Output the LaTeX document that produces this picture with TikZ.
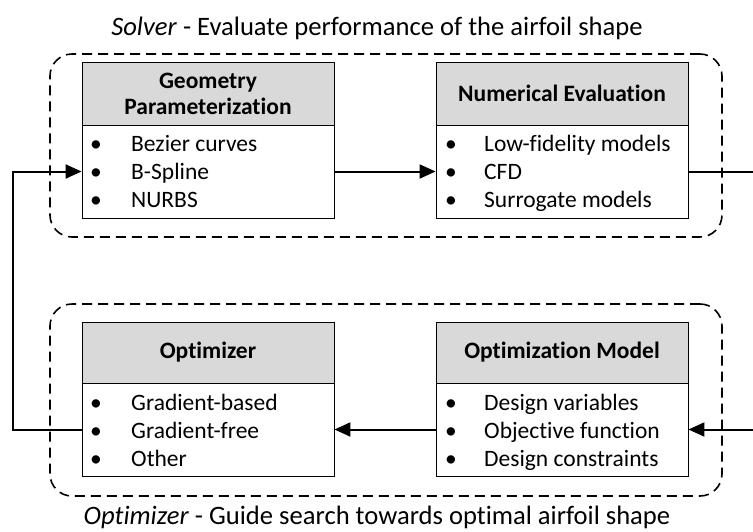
\documentclass[tikz,border=0pt]{standalone}
\usepackage{fontspec}
\setmainfont{Carlito}[Ligatures=NoCommon]
\usetikzlibrary{arrows.meta}
\begin{document}
\begin{tikzpicture}[x=1pt,y=-1pt,
  every node/.style={font=\fontsize{23.5}{27}\selectfont},
  hdr/.style={draw=black, line width=0.9pt, fill=hdrgray, minimum width=252pt, inner sep=0pt, align=center, font=\fontsize{23.5}{26}\selectfont\bfseries},
  bdy/.style={draw=black, line width=0.9pt, fill=white, minimum width=252pt, minimum height=93pt, inner sep=0pt},
  dbox/.style={draw=black, line width=1.6pt, dash pattern=on 10pt off 6pt, rounded corners=22pt, inner sep=0pt},
  item/.style={anchor=base west, inner sep=0pt},
  bul/.style={anchor=base, inner sep=0pt},
  conn/.style={draw=black, line width=2pt},
  arr/.style={conn, -{Triangle[length=16pt,width=14pt]}},
  ttl/.style={anchor=base, inner sep=0pt, font=\fontsize{26.6}{30}\selectfont}
]
\definecolor{hdrgray}{HTML}{D9D9D9}
\useasboundingbox (0,0) rectangle (753,531);

% group boxes
\node[dbox, minimum width=672pt, minimum height=183pt] (solver) at (386,145.5) {};
\node[dbox, minimum width=672pt, minimum height=192pt] (optgrp) at (386,400) {};
\node[ttl] (soltitle) at (377,35) {\textit{Solver} - Evaluate performance of the airfoil shape};
\node[ttl] (opttitle) at (377,524) {\textit{Optimizer} - Guide search towards optimal airfoil shape};

% top boxes
\node[hdr, minimum height=63pt] (gph) at (208,93.5) {Geometry\\Parameterization};
\node[bdy] (gpb) at (208,171.5) {};
\node[hdr, minimum height=63pt] (neh) at (562,93.5) {Numerical Evaluation};
\node[bdy] (neb) at (562,171.5) {};

% bottom boxes
\node[hdr, minimum height=61pt] (oph) at (208,352.5) {Optimizer};
\node[bdy] (opb) at (208,429.5) {};
\node[hdr, minimum height=61pt] (omh) at (562,352.5) {Optimization Model};
\node[bdy] (omb) at (562,429.5) {};

% items
\foreach \n/\y/\t in {g1/151/Bezier curves, g2/179/B-Spline, g3/207/NURBS}{
  \node[bul] (\n b) at (96,\y) {\textbullet};
  \node[item] (\n) at (131,\y) {\t};
}
\foreach \n/\y/\t in {n1/151/Low-fidelity models, n2/179/CFD, n3/207/Surrogate models}{
  \node[bul] (\n b) at (451,\y) {\textbullet};
  \node[item] (\n) at (484,\y) {\t};
}
\foreach \n/\y/\t in {o1/410/Gradient-based, o2/438/Gradient-free, o3/466/Other}{
  \node[bul] (\n b) at (96,\y) {\textbullet};
  \node[item] (\n) at (131,\y) {\t};
}
\foreach \n/\y/\t in {m1/410/Design variables, m2/438/Objective function, m3/466/Design constraints}{
  \node[bul] (\n b) at (451,\y) {\textbullet};
  \node[item] (\n) at (484,\y) {\t};
}

% connectors
\coordinate (rtop) at (753,171.5);
\coordinate (rbot) at (753,429.5);
\coordinate (lx) at (13,0);
\draw[arr] (gpb.east) -- (neb.west);
\draw[conn] (neb.east) -- (rtop);
\draw[arr] (rbot) -- (omb.east);
\draw[arr] (omb.west) -- (opb.east);
\draw[arr] (opb.west) -- (opb.west -| lx) -- (gpb.west -| lx) -- (gpb.west);
\end{tikzpicture}
\end{document}
